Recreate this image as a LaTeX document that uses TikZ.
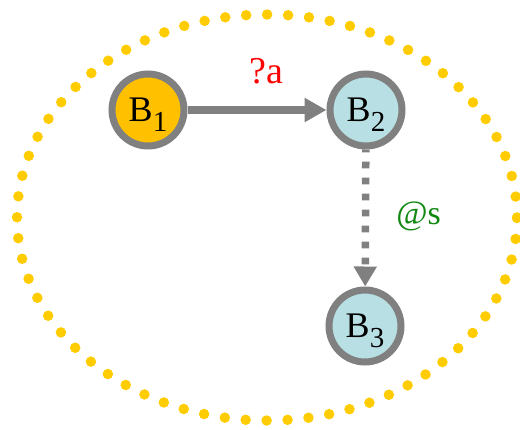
\documentclass[tikz,border=0pt]{standalone}
\usepackage{fontspec}
\setmainfont{Liberation Serif}
\usetikzlibrary{arrows.meta}
\definecolor{dotyellow}{HTML}{FFCC00}
\definecolor{bone}{HTML}{FFC000}
\definecolor{bblue}{HTML}{B8DFE3}
\definecolor{edgegray}{HTML}{808080}
\definecolor{lblred}{HTML}{FF0000}
\definecolor{lblgreen}{HTML}{118811}
\newcommand{\Bsub}[1]{B\raisebox{-0.27em}{\fontsize{29}{30}\selectfont #1}}
\tikzset{
  state/.style={circle, draw=edgegray, line width=7pt, minimum size=72pt, inner sep=0pt,
    text depth=0pt, font=\fontsize{36}{40}\selectfont},
  startstate/.style={state, fill=bone},
  plainstate/.style={state, fill=bblue},
  solidedge/.style={draw=edgegray, line width=8pt, -{Triangle[length=22pt,width=23pt]}},
  dashedge/.style={draw=edgegray, line width=7.5pt, dash pattern=on 6.7pt off 9.3pt, dash phase=3.8pt,
    -{Triangle[length=20pt,width=22pt]}},
  lbl/.style={inner sep=0pt}
}
\begin{document}
\begin{tikzpicture}[x=1pt,y=-1pt]
\useasboundingbox (0,0) rectangle (520,429);
\draw[dotyellow, line width=10.5pt, line cap=round, dash pattern=on 0pt off 20.98pt]
  (267,217.5) ellipse [x radius=250pt, y radius=203pt];
\node[startstate] (b1) at (148,110) {\Bsub{1}};
\node[plainstate] (b2) at (366,110) {\Bsub{2}};
\node[plainstate] (b3) at (365,326) {\Bsub{3}};
\draw[solidedge] (b1) -- node[lbl, above=22pt, xshift=9pt, text=lblred, font=\fontsize{38}{40}\selectfont] (la) {?a} (b2);
\draw[dashedge] (b2) -- node[lbl, right=27pt, yshift=2pt, text=lblgreen, font=\fontsize{34}{40}\selectfont] (ls) {@s} (b3);
\end{tikzpicture}
\end{document}
